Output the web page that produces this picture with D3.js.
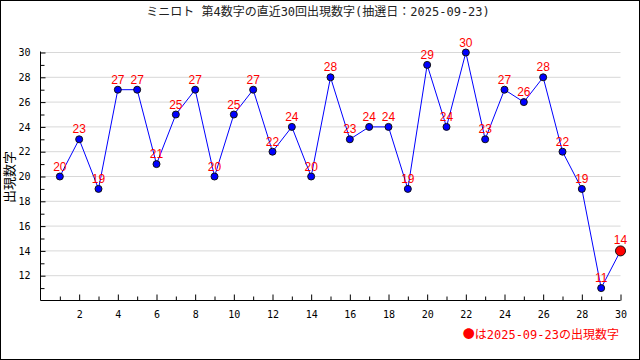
<!DOCTYPE html>
<html><head><meta charset="utf-8">
<script src="https://cdn.jsdelivr.net/npm/d3@7"></script>
<style>body{margin:0;background:#fff}</style>
</head><body>
<svg id="c" width="640" height="360"></svg>
<script>
const draws = d3.range(1, 31);
const values = [20,23,19,27,27,21,25,27,20,25,27,22,24,20,28,23,24,24,19,29,24,30,23,27,26,28,22,19,11,14];
const xTickLabels = d3.range(2, 31, 2);
const yTickLabels = d3.range(12, 31, 2);
const title = "ミニロト 第4数字の直近30回出現数字(抽選日：2025-09-23)";
const yLabel = "出現数字";
const legendMark = "●";
const legendText = "は2025-09-23の出現数字";

const svg = d3.select("#c");
svg.append("rect").attr("x",0.5).attr("y",0.5).attr("width",639).attr("height",359)
  .attr("fill","#fff").attr("stroke","#000");

const x = d3.scaleLinear().domain([0,30]).range([40.5,620.5]);
const y = d3.scaleLinear().domain([10,30]).range([300.5,52.5]);

const jp = "'Noto Sans CJK JP', sans-serif";
const mono = "'DejaVu Sans Mono', monospace";
const mixed = "'DejaVu Sans Mono', 'Noto Sans CJK JP', monospace";

svg.append("text").attr("x",318).attr("y",16).attr("text-anchor","middle")
  .style("font-family",mixed).style("font-size","12px").attr("fill","#222").text(title);

// grid
svg.append("g").selectAll("line").data(yTickLabels).join("line")
  .attr("x1",x(0)).attr("x2",x(30)).attr("y1",d=>y(d)).attr("y2",d=>y(d))
  .attr("stroke","#d8d8d8").attr("stroke-width",1);

// y axis
const ya = svg.append("g").attr("transform",`translate(${x(0)},0)`)
  .call(d3.axisLeft(y).tickValues(d3.range(11,31)).tickSize(-5).tickPadding(10)
    .tickFormat(d=> d%2===0 ? d : ""));
ya.select(".domain").remove();
ya.selectAll("text").style("font-family",mono).style("font-size","10px").attr("fill","#000");
ya.selectAll(".tick line").attr("x2",d=> d%2===0?5:4);
svg.append("line").attr("x1",x(0)).attr("x2",x(0)).attr("y1",y(30)-1).attr("y2",y(10)).attr("stroke","#000");

// x axis
const xa = svg.append("g").attr("transform",`translate(0,${y(10)})`)
  .call(d3.axisBottom(x).tickValues(d3.range(1,31)).tickSize(-5).tickPadding(10)
    .tickFormat(d=> d%2===0 ? d : ""));
xa.select(".domain").remove();
xa.selectAll(".tick line").attr("y2",d=> d%2===0?-6:-4);
xa.selectAll("text").style("font-family",mono).style("font-size","10px").attr("fill","#000");
svg.append("line").attr("x1",x(0)).attr("x2",x(30)).attr("y1",y(10)).attr("y2",y(10)).attr("stroke","#000");

// y label
svg.append("text").attr("transform",`translate(14,${177}) rotate(-90)`).attr("text-anchor","middle")
  .style("font-family",jp).style("font-size","13px").attr("fill","#000").text(yLabel);

// line
const pts = draws.map((d,i)=>({d, v:values[i]}));
svg.append("path").datum(pts).attr("fill","none").attr("stroke","#0000ff").attr("stroke-width",1)
  .attr("d", d3.line().x(p=>x(p.d)).y(p=>y(p.v)));

// points
svg.append("g").selectAll("circle").data(pts).join("circle")
  .attr("cx",p=>x(p.d)).attr("cy",p=>y(p.v))
  .attr("r",(p,i)=> i===pts.length-1 ? 5 : 3.5)
  .attr("fill",(p,i)=> i===pts.length-1 ? "#ff0000" : "#0000ff")
  .attr("stroke","#111").attr("stroke-width",1);

// labels
svg.append("g").selectAll("text").data(pts).join("text")
  .attr("x",p=>x(p.d)).attr("y",(p,i)=>y(p.v)- (i===pts.length-1?7:6)).attr("text-anchor","middle")
  .style("font-family","'Liberation Sans', Arial, sans-serif").style("font-size","12px")
  .attr("fill","#ff0000").text(p=>p.v);

// legend
const lg = svg.append("text").attr("x",619).attr("y",339).attr("text-anchor","end")
  .style("font-size","12px").attr("fill","#ff0000");
lg.append("tspan").style("font-family",jp).text(legendMark);
lg.append("tspan").style("font-family",mixed).text(legendText);
</script>
</body></html>
